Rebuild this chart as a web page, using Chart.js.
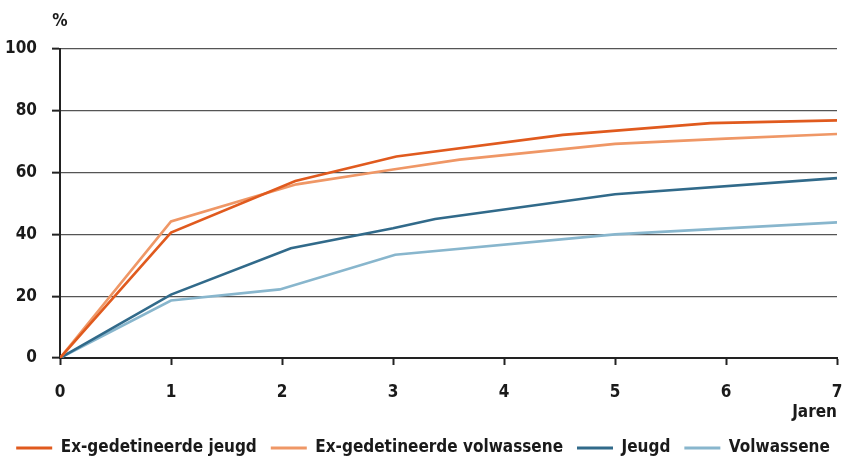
<!DOCTYPE html>
<html>
<head>
<meta charset="utf-8">
<script src="https://cdn.jsdelivr.net/npm/chart.js@4.4.1/dist/chart.umd.min.js"></script>
<style>
  html, body { margin: 0; padding: 0; background: #fff; }
  #wrap { width: 846px; height: 458px; position: relative; }
</style>
</head>
<body>
<div id="wrap"><canvas id="c" width="846" height="458"></canvas></div>
<script>
// Series labels
const seriesNames = ["Ex-gedetineerde jeugd", "Ex-gedetineerde volwassene", "Jeugd", "Volwassene"];
// Years (x) and recidivism percentages (y)
const exJeugdX = [0, 1, 2.12, 3.03, 4.53, 5.86, 7];
const exJeugdY = [0, 40.6, 57.3, 65.2, 72.2, 76.0, 76.9];
const exVolwX  = [0, 1, 2.13, 3.0, 3.6, 5.0, 6.0, 7];
const exVolwY  = [0, 44.2, 56.2, 61.0, 64.2, 69.3, 71.0, 72.5];
const jeugdX   = [0, 1, 2.08, 3.0, 3.38, 5.0, 7];
const jeugdY   = [0, 20.5, 35.5, 42.0, 45.0, 53.0, 58.2];
const volwX    = [0, 1, 1.98, 3.02, 5.0, 7];
const volwY    = [0, 18.6, 22.2, 33.4, 40.0, 43.9];
// Axis ticks
const xTicks = [0, 1, 2, 3, 4, 5, 6, 7];
const yTicks = [0, 20, 40, 60, 80, 100];

const colors = ["#e05a1e", "#ef9766", "#316a8a", "#88b6cd"];
const FONT = "'Liberation Sans Narrow', 'DejaVu Sans Condensed', 'Arial Narrow', sans-serif";

function pts(xs, ys) { return xs.map((x, i) => ({ x: x, y: ys[i] })); }
const seriesData = [pts(exJeugdX, exJeugdY), pts(exVolwX, exVolwY), pts(jeugdX, jeugdY), pts(volwX, volwY)];

const datasets = seriesNames.map((n, i) => ({
  label: n,
  data: seriesData[i],
  borderColor: colors[i],
  backgroundColor: colors[i],
  borderWidth: 2.6,
  pointRadius: 0,
  tension: 0,
  fill: false
}));

const topLabel = {
  id: 'topLabel',
  afterDraw(chart) {
    const ctx = chart.ctx;
    const y = chart.scales.y;
    ctx.save();
    ctx.font = "bold 17px " + FONT;
    ctx.fillStyle = "#1a1a1a";
    ctx.textAlign = "center";
    ctx.textBaseline = "middle";
    ctx.fillText("%", y.right, 22);
    ctx.restore();
  }
};

new Chart(document.getElementById('c'), {
  type: 'line',
  data: { datasets: datasets },
  plugins: [topLabel],
  options: {
    responsive: false,
    animation: false,
    layout: { padding: { top: 49, left: 0, right: 0, bottom: -8.5 } },
    plugins: {
      tooltip: { enabled: false },
      legend: {
        position: 'bottom',
        labels: {
          color: '#1a1a1a',
          font: { family: FONT, size: 17, weight: 'bold' },
          boxWidth: 36,
          boxHeight: 3,
          padding: 14,
          generateLabels(chart) {
            const items = Chart.defaults.plugins.legend.labels.generateLabels(chart);
            items.forEach(it => { it.lineWidth = 0; });
            return items;
          }
        }
      }
    },
    scales: {
      x: {
        type: 'linear',
        min: 0, max: 7,
        afterBuildTicks(s) { s.ticks = xTicks.map(v => ({ value: v })); },
        afterFit(s) { s.height = 67.5; s.paddingRight = 0; s.paddingLeft = 0; },
        ticks: { color: '#1a1a1a', font: { family: FONT, size: 17, weight: 'bold' }, padding: 17 },
        grid: { drawOnChartArea: false, drawTicks: true, tickLength: 7, tickColor: '#222', tickWidth: 2 },
        border: { color: '#222', width: 2 },
        title: { display: true, text: 'Jaren', align: 'end', color: '#1a1a1a',
                 font: { family: FONT, size: 17, weight: 'bold' }, padding: { top: 0, bottom: 3 } }
      },
      y: {
        min: 0, max: 100,
        afterBuildTicks(s) { s.ticks = yTicks.map(v => ({ value: v })); },
        afterFit(s) { s.width = 60; },
        ticks: { color: '#1a1a1a', font: { family: FONT, size: 17, weight: 'bold' }, padding: 15 },
        grid: { color: '#555', lineWidth: 1.3, tickLength: 8, tickColor: '#222', tickWidth: 2 },
        border: { color: '#222', width: 2 }
      },
      yRight: {
        position: 'right',
        display: true,
        afterFit(s) { s.width = 9; s.paddingTop = 0; s.paddingBottom = 0; },
        ticks: { display: false },
        grid: { display: false, drawTicks: false },
        border: { display: false }
      }
    }
  }
});
</script>
</body>
</html>
